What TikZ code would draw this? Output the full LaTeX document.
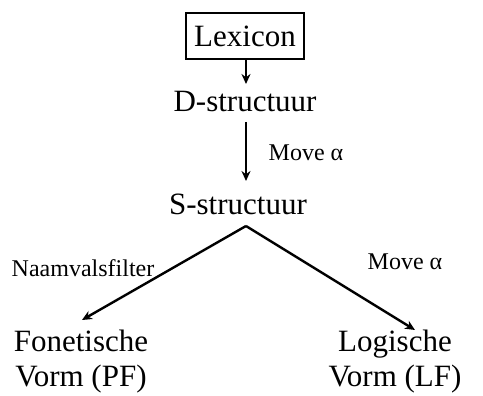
\documentclass[tikz,border=0pt]{standalone}
\usepackage{fontspec}
\setmainfont{Liberation Serif}
\usetikzlibrary{arrows.meta}
\tikzset{
  big/.style={font=\fontsize{31}{35}\selectfont, inner sep=0pt, align=center},
  small/.style={font=\fontsize{24}{28}\selectfont, inner sep=0pt},
  pijl/.style={line width=2.4pt, -{Stealth[length=10pt,width=9pt]}}
}
\begin{document}
\begin{tikzpicture}[x=1pt,y=-1pt]
\useasboundingbox (0,0) rectangle (483,396);

\node[big, draw, line width=1.6pt, minimum width=118pt, minimum height=46pt] (lex) at (245,36) {Lexicon};
\node[big] (ds) at (245,102) {D-structuur};
\node[big] (ss) at (238,204) {S-structuur};
\node[big] (pf) at (81,362) {Fonetische\\Vorm (PF)};
\node[big] (lf) at (395,362) {Logische\\Vorm (LF)};

\coordinate (top) at (246,226);
\coordinate (links) at (82,320);
\coordinate (rechts) at (415,330);

\draw[pijl] (lex.south -| top) -- (246,84);
\draw[pijl] (246,122) -- (246,181);
\draw[pijl] (top) -- (links);
\draw[pijl] (top) -- (rechts);

\node[small] (mv1) at (306,153) {Move α};
\node[small] (nf) at (83,268) {Naamvalsfilter};
\node[small] (mv2) at (405,262) {Move α};
\end{tikzpicture}
\end{document}
